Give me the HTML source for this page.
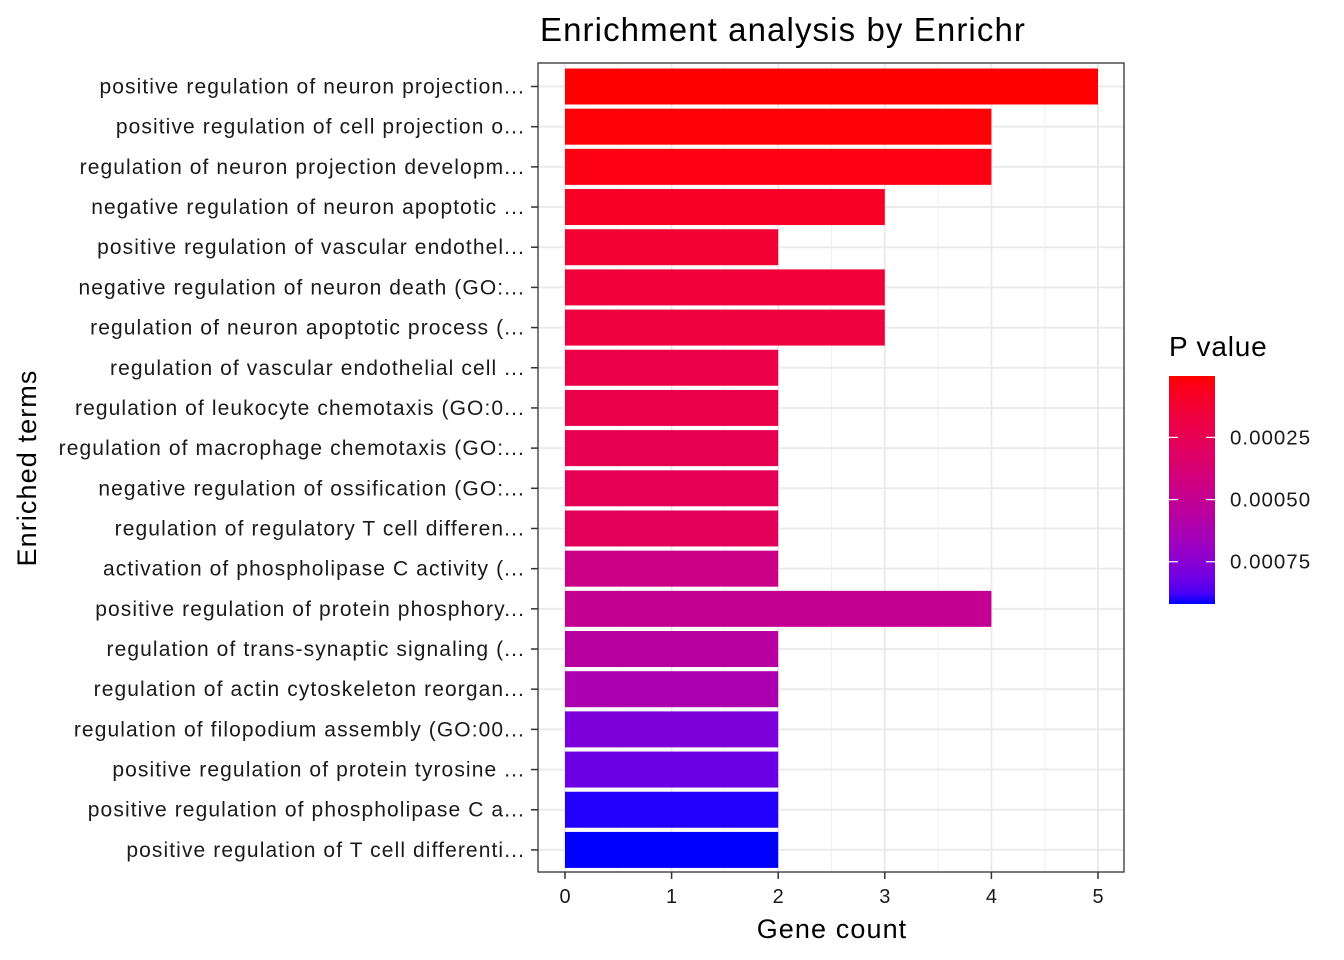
<!DOCTYPE html>
<html><head><meta charset="utf-8"><style>
body{margin:0;background:#fff;}
svg{display:block;font-family:"Liberation Sans",Arial,sans-serif;}
</style></head><body>
<svg id="c" width="1344" height="960"></svg>
<script>
const terms=["positive regulation of neuron projection...","positive regulation of cell projection o...","regulation of neuron projection developm...","negative regulation of neuron apoptotic ...","positive regulation of vascular endothel...","negative regulation of neuron death (GO:...","regulation of neuron apoptotic process (...","regulation of vascular endothelial cell ...","regulation of leukocyte chemotaxis (GO:0...","regulation of macrophage chemotaxis (GO:...","negative regulation of ossification (GO:...","regulation of regulatory T cell differen...","activation of phospholipase C activity (...","positive regulation of protein phosphory...","regulation of trans-synaptic signaling (...","regulation of actin cytoskeleton reorgan...","regulation of filopodium assembly (GO:00...","positive regulation of protein tyrosine ...","positive regulation of phospholipase C a...","positive regulation of T cell differenti..."];
const counts=[5,4,4,3,2,3,3,2,2,2,2,2,2,4,2,2,2,2,2,2];
const pvals=[0.000003,0.00001,0.00003,0.00008,0.00013,0.00015,0.00017,0.0002,0.00021,0.00024,0.00026,0.00028,0.00045,0.0005,0.00056,0.00062,0.00078,0.00082,0.00091,0.00092];
const xTicks=[0,1,2,3,4,5];
const legendTicks=[0.00025,0.0005,0.00075];
const legendLabels=["0.00025","0.00050","0.00075"];

const NS="http://www.w3.org/2000/svg";
const svg=document.getElementById('c');
function mk(t,a,p){const e=document.createElementNS(NS,t);for(const k in a)e.setAttribute(k,a[k]);(p||svg).appendChild(e);return e;}
const L=538,R=1124,T=63,B=872;
const x0=565,xu=106.6;
const xs=v=>x0+v*xu;
const step=40.18;
const ys=i=>86.5+step*i;
function s2l(c){c/=255;return c<=0.04045?c/12.92:Math.pow((c+0.055)/1.055,2.4);}
function l2s(c){c=c<=0.0031308?12.92*c:1.055*Math.pow(c,1/2.4)-0.055;return Math.max(0,Math.min(255,Math.round(c*255)));}
function toLab(r,g,b){r=s2l(r);g=s2l(g);b=s2l(b);let X=(0.4124*r+0.3576*g+0.1805*b)/0.95047,Y=0.2126*r+0.7152*g+0.0722*b,Z=(0.0193*r+0.1192*g+0.9505*b)/1.08883;const f=t=>t>0.008856?Math.cbrt(t):7.787*t+16/116;return[116*f(Y)-16,500*(f(X)-f(Y)),200*(f(Y)-f(Z))];}
function fromLab(l,a,b){const fy=(l+16)/116,fx=fy+a/500,fz=fy-b/200;const fi=t=>t*t*t>0.008856?t*t*t:(t-16/116)/7.787;const X=fi(fx)*0.95047,Y=fi(fy),Z=fi(fz)*1.08883;const r=3.2406*X-1.5372*Y-0.4986*Z,g=-0.9689*X+1.8758*Y+0.0415*Z,bb=0.0557*X-0.2040*Y+1.0570*Z;return `rgb(${l2s(r)},${l2s(g)},${l2s(bb)})`;}
const labR=toLab(255,0,0),labB=toLab(0,0,255);
const pmin=Math.min(...pvals),pmax=Math.max(...pvals);
function col(p){const t=(p-pmin)/(pmax-pmin);return fromLab(labR[0]+(labB[0]-labR[0])*t,labR[1]+(labB[1]-labR[1])*t,labR[2]+(labB[2]-labR[2])*t);}

for(let v=0.5;v<5;v+=1){const m=mk('line',{x1:xs(v),x2:xs(v),y1:T,y2:B,stroke:'#f0f0f0','stroke-width':1});}
xTicks.forEach(v=>{const g=mk('line',{x1:xs(v),x2:xs(v),y1:T,y2:B,stroke:'#ebebeb','stroke-width':2});});
terms.forEach((t,i)=>{const g=mk('line',{x1:L,x2:R,y1:ys(i),y2:ys(i),stroke:'#ebebeb','stroke-width':2});});
terms.forEach((t,i)=>{
 const r=mk('rect',{x:xs(0),y:ys(i)-18,width:xs(counts[i])-xs(0),height:36,fill:col(pvals[i])});
 
 
 const tk=mk('line',{x1:L-7,x2:L,y1:ys(i),y2:ys(i),stroke:'#333','stroke-width':1.5});
 
 
 const tx=mk('text',{x:L-13,y:ys(i)+7,'text-anchor':'end','font-size':'21','letter-spacing':'1.1',fill:'#1a1a1a'});tx.textContent=t;
 
 
});
const border=mk('rect',{x:L,y:T,width:R-L,height:B-T,fill:'none',stroke:'#333','stroke-width':1.3});

xTicks.forEach(v=>{
 const tk=mk('line',{x1:xs(v),x2:xs(v),y1:B,y2:B+7,stroke:'#333','stroke-width':1.5});
 
 
 const tx=mk('text',{x:xs(v),y:B+31,'text-anchor':'middle','font-size':'20',fill:'#1a1a1a'});tx.textContent=v;
 
 
});
function txt(s,a,name){const e=mk('text',a);e.textContent=s;return e;}
txt('Enrichment analysis by Enrichr',{x:783,y:41,'text-anchor':'middle','font-size':'33','letter-spacing':'1.1',fill:'#000'},'chart-title');
txt('Gene count',{x:832,y:938,'text-anchor':'middle','font-size':'27','letter-spacing':'1.1',fill:'#000'},'x-axis-title');
txt('Enriched terms',{x:36,y:468,'text-anchor':'middle','font-size':'27','letter-spacing':'1.1',fill:'#000',transform:'rotate(-90 36 468)'},'y-axis-title');
txt('P value',{x:1169,y:356,'font-size':'28','letter-spacing':'0.8',fill:'#000'},'legend-title');
const defs=mk('defs',{});const grad=mk('linearGradient',{id:'lg',x1:0,y1:0,x2:0,y2:1},defs);
for(let k=0;k<=20;k++){mk('stop',{offset:k/20,'stop-color':col(pmin+(pmax-pmin)*k/20)},grad);}
const lt=376,lb=604,lx=1169,lw=46;
const lr=mk('rect',{x:lx,y:lt,width:lw,height:lb-lt,fill:'url(#lg)'});

const ly=p=>lt+(p-pmin)/(pmax-pmin)*(lb-lt);
legendTicks.forEach((p,i)=>{
 mk('line',{x1:lx,x2:lx+9,y1:ly(p),y2:ly(p),stroke:'#fff','stroke-width':1.2});
 mk('line',{x1:lx+lw-9,x2:lx+lw,y1:ly(p),y2:ly(p),stroke:'#fff','stroke-width':1.2});
 const tx=mk('text',{x:lx+lw+15,y:ly(p)+7,'font-size':'20.5','letter-spacing':'1',fill:'#1a1a1a'});tx.textContent=legendLabels[i];
 
 
});
</script>
</body></html>
